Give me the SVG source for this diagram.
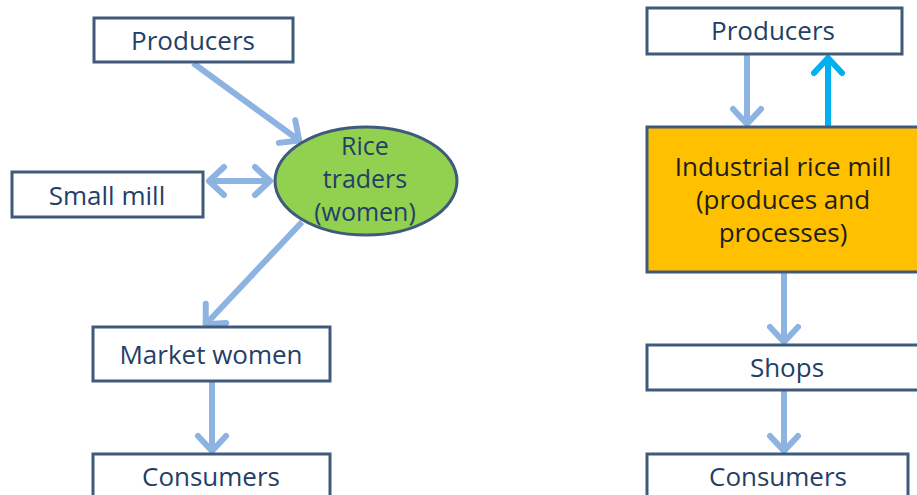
<svg xmlns="http://www.w3.org/2000/svg" width="917" height="495" viewBox="0 0 917 495">
<style>
.box{fill:#ffffff;stroke:#3f5a7a;stroke-width:3}
.lbl{font-family:"Open Sans","Noto Sans",sans-serif;font-size:26px;fill:#243f66;text-anchor:middle}
.sm{font-size:25px}
.dk{fill:#1e1e1e}
.arr{stroke:#8db3e2;stroke-width:6;fill:none}
.cy{stroke:#00b0f0;stroke-width:6;fill:none}
</style>
<defs>
<marker id="ah" markerUnits="userSpaceOnUse" markerWidth="40" markerHeight="40" viewBox="-20 -20 40 40" refX="0" refY="0" orient="auto-start-reverse">
<path d="M-16,-14 L-1,0 L-16,14" stroke="#8db3e2" stroke-width="6" fill="none" stroke-linecap="round" stroke-linejoin="round"/>
</marker>
<marker id="ahc" markerUnits="userSpaceOnUse" markerWidth="40" markerHeight="40" viewBox="-20 -20 40 40" refX="0" refY="0" orient="auto">
<path d="M-16,-14 L-1,0 L-16,14" stroke="#00b0f0" stroke-width="6" fill="none" stroke-linecap="round" stroke-linejoin="round"/>
</marker>
</defs>
<g id="connectors">
<line class="arr" x1="193" y1="63" x2="300" y2="141" marker-end="url(#ah)"/>
<line class="arr" x1="208" y1="181" x2="271" y2="181" marker-start="url(#ah)" marker-end="url(#ah)"/>
<line class="arr" x1="302" y1="222" x2="205" y2="325" marker-end="url(#ah)"/>
<line class="arr" x1="212" y1="381" x2="212" y2="452" marker-end="url(#ah)"/>
<line class="arr" x1="747" y1="54" x2="747" y2="125" marker-end="url(#ah)"/>
<line class="cy" x1="828" y1="127" x2="828" y2="57" marker-end="url(#ahc)"/>
<line class="arr" x1="784" y1="272" x2="784" y2="343" marker-end="url(#ah)"/>
<line class="arr" x1="784" y1="390" x2="784" y2="452" marker-end="url(#ah)"/>
</g>
<g id="producers-left">
<rect class="box" x="94" y="18" width="199" height="44"/>
<text class="lbl" x="193" y="50">Producers</text>
</g>
<g id="small-mill">
<rect class="box" x="12" y="172" width="191" height="45"/>
<text class="lbl" x="107" y="205">Small mill</text>
</g>
<g id="rice-traders">
<ellipse cx="366" cy="181" rx="91" ry="54" fill="#92d050" stroke="#3f5a7a" stroke-width="3"/>
<text class="lbl sm" x="365" y="155">Rice</text>
<text class="lbl sm" x="365" y="188">traders</text>
<text class="lbl sm" x="365" y="221">(women)</text>
</g>
<g id="market-women">
<rect class="box" x="93" y="327" width="237" height="54"/>
<text class="lbl" x="211" y="364">Market women</text>
</g>
<g id="consumers-left">
<rect class="box" x="93" y="454" width="237" height="50"/>
<text class="lbl" x="211" y="486">Consumers</text>
</g>
<g id="producers-right">
<rect class="box" x="647" y="8" width="255" height="46"/>
<text class="lbl" x="773" y="40">Producers</text>
</g>
<g id="industrial-mill">
<rect x="647" y="127" width="272" height="145" fill="#ffc000" stroke="#3f5a7a" stroke-width="3"/>
<text class="lbl dk" x="783" y="176">Industrial rice mill</text>
<text class="lbl dk" x="783" y="209">(produces and</text>
<text class="lbl dk" x="783" y="242">processes)</text>
</g>
<g id="shops">
<rect class="box" x="647" y="345" width="272" height="45"/>
<text class="lbl" x="787" y="377">Shops</text>
</g>
<g id="consumers-right">
<rect class="box" x="647" y="454" width="261" height="50"/>
<text class="lbl" x="778" y="486">Consumers</text>
</g>
</svg>
